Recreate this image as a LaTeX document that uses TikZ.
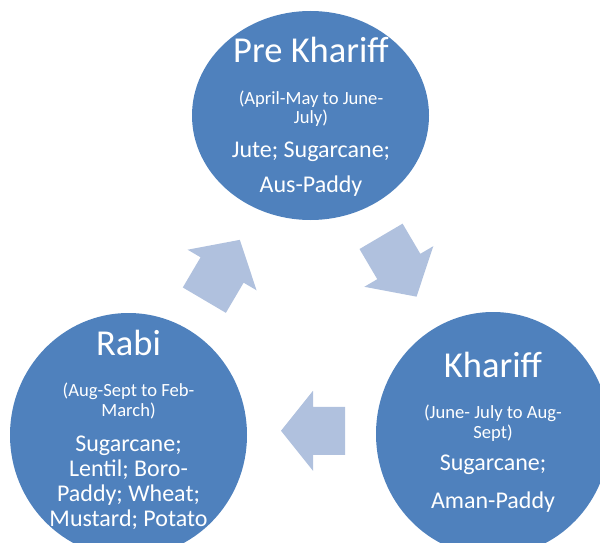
\documentclass[tikz,border=0pt]{standalone}
\usepackage{fontspec}
\setmainfont{Carlito}
\usetikzlibrary{shapes.geometric}
\usetikzlibrary{calc}
\usepackage{xcolor}
\definecolor{seasonblue}{RGB}{79,129,189}
\definecolor{arrowblue}{RGB}{176,193,222}
\tikzstyle{season}=[ellipse, fill=seasonblue, inner sep=0pt]
\tikzstyle{seasonname}=[text=white, anchor=base, inner sep=0pt, font=\fontsize{36.5}{40}\selectfont]
\tikzstyle{seasontime}=[text=white, anchor=base, inner sep=0pt, align=center, font=\fontsize{18.6}{19.5}\selectfont]
\tikzstyle{seasoncrops}=[text=white, anchor=base, inner sep=0pt, align=center, font=\fontsize{24}{25}\selectfont]
\newcommand{\cyclearrow}[4]{
\begin{scope}[shift={(#1)}, rotate=#2]
	\fill[arrowblue] (#3/2,0) -- (0,40) -- (0,#4) -- (-#3/2,#4) -- (-#3/2,-#4) -- (0,-#4) -- (0,-40) -- cycle;
\end{scope}
}

\begin{document}
\begin{tikzpicture}[x=1pt,y=1pt]
\useasboundingbox (0,0) rectangle (600,542);
\node[season, minimum width=237pt, minimum height=209pt] (prekh) at (310.5,426.5) {};
\node[season, minimum width=237pt, minimum height=244pt] (rabi) at (128.5,107) {};
\node[season, minimum width=234pt, minimum height=244pt] (kharif) at (493,108) {};
% arrows between the seasons
\coordinate (toprekh) at (222.1,272);
\coordinate (tokharif) at (398.8,275.5);
\coordinate (torabi) at (313,111.2);
\cyclearrow{toprekh}{59.5}{70}{25}
\cyclearrow{tokharif}{-59.5}{70}{25}
\cyclearrow{torabi}{180}{64}{24}
% pre khariff
\node[seasonname] (prekh-name) at (311,479) {Pre Khariff};
\node[seasontime] (prekh-time) at (311,418) {(April-May to June-\\July)};
\node[seasoncrops] (prekh-crops) at (311,349) {Jute; Sugarcane;\\[11pt]Aus-Paddy};
% khariff
\node[seasonname] (kharif-name) at (493,165) {Khariff};
\node[seasontime] (kharif-time) at (493,104) {(June- July to Aug-\\Sept)};
\node[seasoncrops] (kharif-crops) at (493,34) {Sugarcane;\\[13pt]Aman-Paddy};
% rabi
\node[seasonname] (rabi-name) at (128.5,187) {Rabi};
\node[seasontime] (rabi-time) at (128.5,126) {(Aug-Sept to Feb-\\March)};
\node[seasoncrops] (rabi-crops) at (128.5,15.3) {Sugarcane;\\Lentil; Boro-\\Paddy; Wheat;\\Mustard; Potato};
\end{tikzpicture}
\end{document}
